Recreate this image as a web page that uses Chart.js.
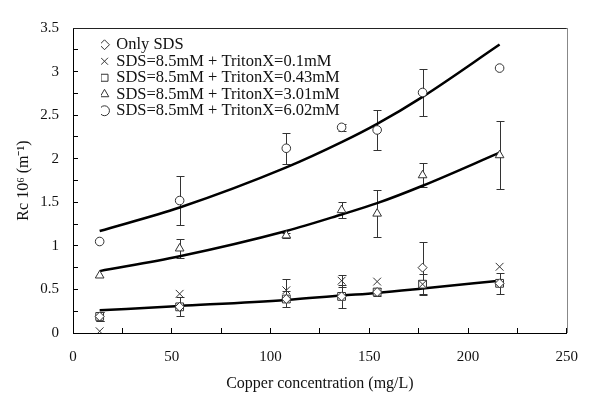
<!DOCTYPE html>
<html>
<head>
<meta charset="utf-8">
<script src="https://cdn.jsdelivr.net/npm/chart.js@4.4.0/dist/chart.umd.min.js"></script>
<style>
    html, body { margin: 0; padding: 0; background: #fff; }
    #wrap { width: 598px; height: 401px; }
</style>
</head>
<body>
<div id="wrap"><canvas id="rcChart"></canvas></div>
<script>
// Copper concentration (mg/L)
const copper = [13.5, 54, 108, 136, 154, 177, 216];

// Rc 10^6 (m^-1) per surfactant mix
const onlySds   = [0.19, 0.30, 0.39, 0.42, 0.47, 0.75, 0.57];
const triton010 = [0.02, 0.45, 0.49, 0.60, 0.59, 0.56, 0.76];
const triton043 = [0.19, 0.30, 0.39, 0.42, 0.47, 0.56, 0.57];
const triton301 = [0.66, 0.97, 1.12, 1.41, 1.37, 1.81, 2.04];
const triton602 = [1.05, 1.52, 2.12, 2.36, 2.33, 2.76, 3.04];

// half-width of the error bars
const onlySdsErr   = [0.05, 0, 0, 0, 0, 0.30, 0];
const triton010Err = [0, 0, 0.13, 0.07, 0, 0, 0];
const triton043Err = [0.05, 0.11, 0.09, 0.13, 0.05, 0.12, 0.12];
const triton301Err = [0, 0.11, 0.03, 0.09, 0.27, 0.14, 0.39];
const triton602Err = [0, 0.28, 0.18, 0.04, 0.23, 0.27, 0];

// exponential trend curves, read at the same concentrations
const trend043 = [0.26, 0.31, 0.38, 0.43, 0.46, 0.51, 0.60];
const trend301 = [0.71, 0.88, 1.17, 1.36, 1.49, 1.69, 2.07];
const trend602 = [1.17, 1.44, 1.90, 2.19, 2.40, 2.71, 3.31];

const yTicks = [0, 0.5, 1, 1.5, 2, 2.5, 3, 3.5];
const xTicks = [0, 50, 100, 150, 200, 250];

const toPoints = (ys) => copper.map((c, i) => ({ x: c, y: ys[i] }));

const markerSet = (label, ys, errs, pointStyle, radius) => ({
    label,
    data: toPoints(ys),
    errorBars: errs,
    showLine: false,
    pointStyle,
    pointRadius: radius,
    pointHoverRadius: radius,
    backgroundColor: '#fff',
    borderColor: '#333',
    borderWidth: 1
});

const trendSet = (ys) => ({
    label: 'trend',
    data: toPoints(ys),
    showLine: true,
    pointRadius: 0,
    borderColor: '#000',
    borderWidth: 2.5,
    cubicInterpolationMode: 'monotone'
});

// error bars under the markers, plus the top/right frame of the plot
const errorBarPlugin = {
    id: 'errorBars',
    beforeDatasetsDraw(chart) {
        const { ctx, scales: { x, y } } = chart;
        ctx.save();
        ctx.strokeStyle = '#333';
        ctx.lineWidth = 1;
        chart.data.datasets.forEach((ds) => {
            if (!ds.errorBars) return;
            ds.data.forEach((pt, j) => {
                const e = ds.errorBars[j];
                if (!e) return;
                const px = Math.round(x.getPixelForValue(pt.x)) + 0.5;
                const top = Math.round(y.getPixelForValue(pt.y + e)) + 0.5;
                const bot = Math.round(y.getPixelForValue(pt.y - e)) + 0.5;
                ctx.beginPath();
                ctx.moveTo(px, top); ctx.lineTo(px, bot);
                ctx.moveTo(px - 4, top); ctx.lineTo(px + 4, top);
                ctx.moveTo(px - 4, bot); ctx.lineTo(px + 4, bot);
                ctx.stroke();
            });
        });
        ctx.restore();
    },
    afterDraw(chart) {
        const { ctx, chartArea: a } = chart;
        ctx.save();
        ctx.lineWidth = 1;
        ctx.strokeStyle = '#222';
        ctx.beginPath();
        ctx.moveTo(a.left, Math.round(a.top) + 0.5);
        ctx.lineTo(a.right, Math.round(a.top) + 0.5);
        ctx.stroke();
        ctx.strokeStyle = '#888';
        ctx.beginPath();
        ctx.moveTo(Math.round(a.right) + 0.5, a.top);
        ctx.lineTo(Math.round(a.right) + 0.5, a.bottom);
        ctx.stroke();
        ctx.restore();
    },
    afterUpdate(chart) {
        // tuck the legend into the upper-left corner of the plot
        const a = chart.chartArea;
        chart.legend.left = a.left + 28;
        chart.legend.top = a.top + 8.5;
    }
};

Chart.defaults.font.family = '"Liberation Serif", "Times New Roman", serif';
Chart.defaults.color = '#111';

new Chart(document.getElementById('rcChart'), {
    type: 'scatter',
    data: {
        datasets: [
            markerSet('Only SDS', onlySds, onlySdsErr, 'rectRot', 4.5),
            markerSet('SDS=8.5mM + TritonX=0.1mM', triton010, triton010Err, 'crossRot', 5.5),
            markerSet('SDS=8.5mM + TritonX=0.43mM', triton043, triton043Err, 'rect', 5.5),
            markerSet('SDS=8.5mM + TritonX=3.01mM', triton301, triton301Err, 'triangle', 5),
            markerSet('SDS=8.5mM + TritonX=6.02mM', triton602, triton602Err, 'circle', 4.3),
            trendSet(trend043),
            trendSet(trend301),
            trendSet(trend602)
        ]
    },
    options: {
        responsive: true,
        maintainAspectRatio: false,
        animation: false,
        layout: { padding: { top: 14, right: 14, left: 0, bottom: 0 } },
        plugins: {
            tooltip: { enabled: false },
            legend: {
                position: 'chartArea',
                align: 'start',
                labels: {
                    usePointStyle: true,
                    boxWidth: 7,
                    boxHeight: 7,
                    padding: 0,
                    font: { size: 16.5 },
                    color: '#111',
                    filter: (item) => item.text !== 'trend'
                }
            }
        },
        scales: {
            x: {
                type: 'linear',
                min: 0,
                max: 250,
                border: { color: '#000', width: 1 },
                grid: { drawOnChartArea: false, tickLength: -5, color: '#000' },
                ticks: {
                    stepSize: 25,
                    autoSkip: false,
                    maxRotation: 0,
                    padding: 20,
                    font: { size: 15 },
                    callback: (v) => xTicks.includes(v) ? String(v) : ''
                },
                title: {
                    display: true,
                    text: 'Copper concentration (mg/L)',
                    font: { size: 16 },
                    padding: { top: 0, bottom: 8 }
                },
                afterFit: (s) => { s.height = 68; }
            },
            y: {
                min: 0,
                max: 3.5,
                border: { color: '#000', width: 1 },
                grid: { drawOnChartArea: false, tickLength: -5, color: '#000' },
                ticks: {
                    stepSize: 0.25,
                    autoSkip: false,
                    padding: 19,
                    font: { size: 15 },
                    callback: (v) => yTicks.includes(v) ? String(v) : ''
                },
                title: {
                    display: true,
                    text: 'Rc 10\u2076 (m\u207B\u00B9)',
                    font: { size: 16 },
                    padding: { top: 14, bottom: 0 }
                },
                afterFit: (s) => { s.width = 73; }
            }
        }
    },
    plugins: [errorBarPlugin]
});
</script>
</body>
</html>
